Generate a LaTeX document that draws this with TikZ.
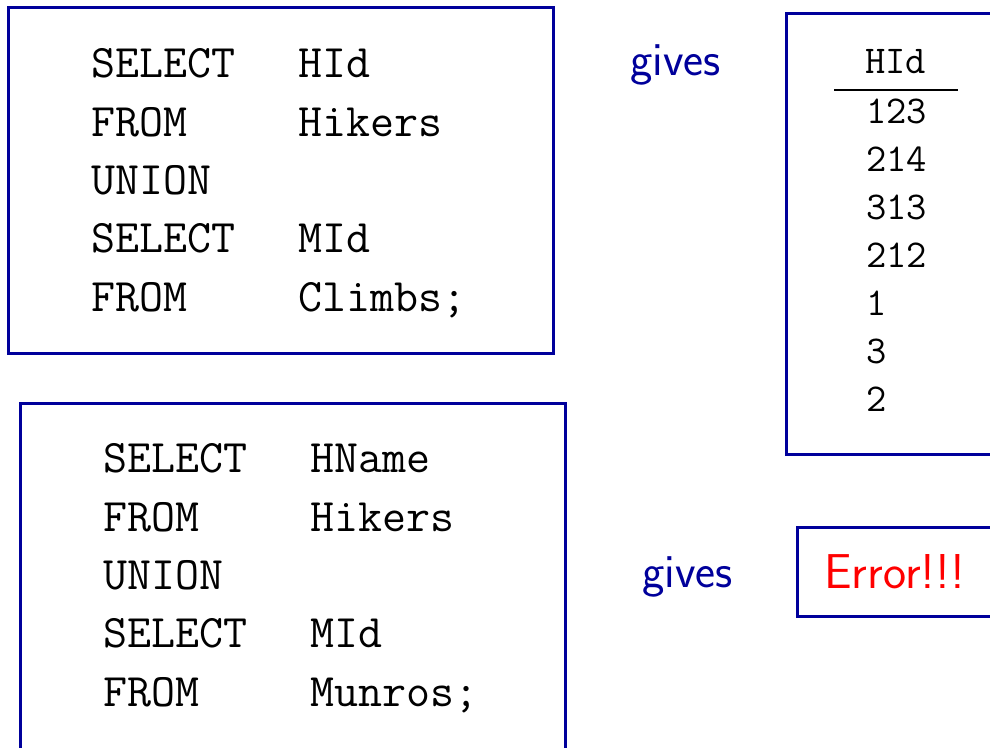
\documentclass[tikz,border=0pt]{standalone}
\usepackage{fontspec}
\definecolor{frameblue}{RGB}{0,0,155}
\definecolor{errred}{RGB}{255,0,0}
\begin{document}
\begin{tikzpicture}[x=0.5pt,y=-0.5pt,
  frame/.style={draw=frameblue,line width=1.5pt,rectangle,inner sep=0pt},
  code/.style={anchor=base west,inner sep=0pt,font=\fontsize{23.3}{28}\selectfont\ttfamily},
  cell/.style={anchor=base west,inner sep=0pt,font=\fontsize{19.7}{23}\selectfont\ttfamily},
  remark/.style={anchor=base west,inner sep=0pt,text=frameblue,font=\fontsize{23.8}{28}\selectfont\sffamily}]
\useasboundingbox (0,0) rectangle (990,748);
\clip (0,0) rectangle (990,748);

% query boxes
\node[frame,minimum width=272.5pt,minimum height=173pt] (q1) at (280.5,181) {};
\node[frame,minimum width=272.5pt,minimum height=193pt] (q2) at (292.5,597) {};

% first query: HId UNION MId
\node[code] (a1) at (91,78)  {SELECT};
\node[code] (a2) at (91,137) {FROM};
\node[code] (a3) at (91,195) {UNION};
\node[code] (a4) at (91,253) {SELECT};
\node[code] (a5) at (91,312) {FROM};
\node[code] (b1) at (298,78)  {HId};
\node[code] (b2) at (298,137) {Hikers};
\node[code] (b4) at (298,253) {MId};
\node[code] (b5) at (298,312) {Climbs;};

% second query: HName UNION MId
\node[code] (c1) at (103,472) {SELECT};
\node[code] (c2) at (103,531) {FROM};
\node[code] (c3) at (103,589) {UNION};
\node[code] (c4) at (103,647) {SELECT};
\node[code] (c5) at (103,706) {FROM};
\node[code] (d1) at (310,472) {HName};
\node[code] (d2) at (310,531) {Hikers};
\node[code] (d4) at (310,647) {MId};
\node[code] (d5) at (310,706) {Munros;};

% results
\node[remark] (g1) at (630,76)  {gives};
\node[remark] (g2) at (642,587) {gives};

\node[frame,minimum width=112pt,minimum height=220pt] (res) at (898,234) {};
\node[cell] (h) at (865,74) {HId};
\coordinate (rl) at (834,90);
\coordinate (rr) at (958,90);
\draw[line width=1.4pt] (rl) -- (rr);
\foreach \v [count=\i] in {123,214,313,212,1,3,2}
  \node[cell] (r\i) at (866,{124+48*(\i-1)}) {\v};

\node[frame,minimum width=106.5pt,minimum height=44.5pt] (err) at (903.5,571.5) {};
\node[anchor=base west,inner sep=0pt,text=errred,font=\fontsize{24.5}{28}\selectfont\sffamily] (e) at (824,588) {Error!!!};
\end{tikzpicture}
\end{document}
